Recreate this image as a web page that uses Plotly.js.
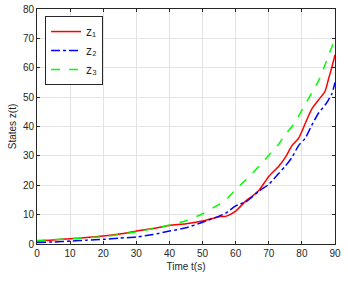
<!DOCTYPE html>
<html><head><meta charset="utf-8">
<script src="https://cdn.plot.ly/plotly-3.0.1.min.js"></script>
<style>html,body{margin:0;padding:0;background:#fff;}#c{width:348px;height:282px;}</style>
</head><body><div id="c"></div>
<script>
const t  = [0,5,10,15,20,25,30,35,40,45,50,55,57,60,63,65,67,70,73,75,77,79,81,83,85,87,88,89,90];
const z1 = [1.0,1.4,1.8,2.2,2.7,3.4,4.4,5.3,6.3,6.9,7.8,9.3,9.4,11.2,14.6,16.3,18.2,23,26.5,29.5,33.5,36,41,46,49,52,56,60,64.4];
const z2 = [0.5,0.7,1.0,1.3,1.6,2.0,2.4,3.2,4.4,5.5,7.4,9.5,10.5,13.0,14.3,16,18,20.3,24,26.5,29.5,33.5,36,40.5,44.5,47.3,49,51,55];
const z3 = [1.2,1.5,1.8,2.1,2.5,3.2,4.1,5.2,6.5,7.9,10.3,13.5,15,18.5,21.8,24,26.5,30.2,34,37.3,40,43.5,47.5,51.5,55.5,61,64,67,70];
const names = ['z\u2081','z\u2082','z\u2083'];

const traces = [
  {x:t, y:z1, name:names[0], mode:'lines', line:{color:'#ff0000', width:1.5, shape:'spline', smoothing:0.6}},
  {x:t, y:z2, name:names[1], mode:'lines', line:{color:'#0000ff', width:1.5, dash:'dashdot', shape:'spline', smoothing:0.6}},
  {x:t, y:z3, name:names[2], mode:'lines', line:{color:'#00ff00', width:1.5, dash:'dash', shape:'spline', smoothing:0.6}}
];
const axisCommon = {
  showline:true, mirror:'ticks', linecolor:'#262626', linewidth:1,
  showgrid:true, gridcolor:'#e3e3e3', gridwidth:1,
  ticks:'inside', ticklen:3, tickcolor:'#262626',
  zeroline:false,
  tickfont:{family:'Liberation Sans, Arial, sans-serif', size:10, color:'#262626'}
};
const layout = {
  width:348, height:282,
  margin:{l:37, r:13, t:9, b:38},
  paper_bgcolor:'#fff', plot_bgcolor:'#fff',
  font:{family:'Liberation Sans, Arial, sans-serif', size:10, color:'#262626'},
  xaxis:Object.assign({}, axisCommon, {range:[0,90], tickvals:[0,10,20,30,40,50,60,70,80,90],
    title:{text:'Time t(s)', font:{size:10, color:'#262626'}, standoff:4}}),
  yaxis:Object.assign({}, axisCommon, {range:[0,80], tickvals:[0,10,20,30,40,50,60,70,80],
    title:{text:'States z(t)', font:{size:10, color:'#262626'}, standoff:4}}),
  showlegend:true,
  legend:{x:0.027, y:0.97, xanchor:'left', yanchor:'top',
    bgcolor:'#fff', bordercolor:'#262626', borderwidth:1,
    font:{size:12, color:'#262626'}, tracegroupgap:0, itemwidth:30}
};
Plotly.newPlot('c', traces, layout, {staticPlot:true, displayModeBar:false});
</script></body></html>
